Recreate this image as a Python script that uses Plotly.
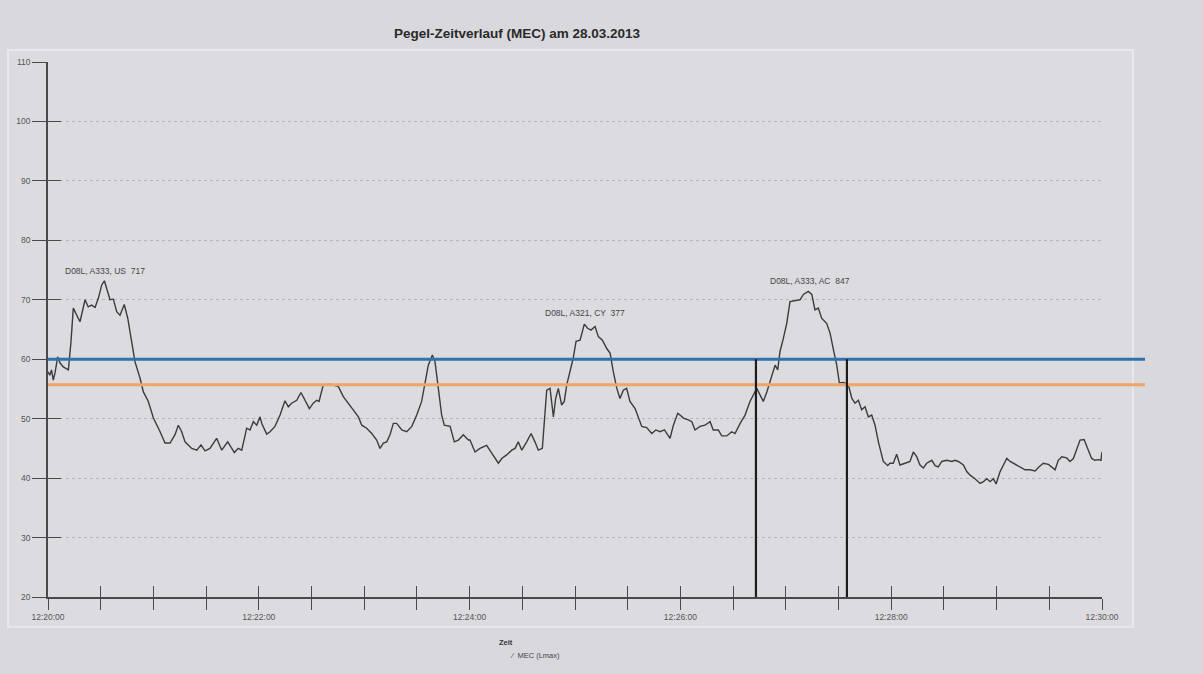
import pandas as pd
import plotly.graph_objects as go

# ---------------- data ----------------
start_time = "2013-03-28 12:20:00"
end_time = "2013-03-28 12:30:00"

seconds = [0, 1, 2, 3, 4, 5.5, 6.8, 8.7, 11.6, 13.1, 14.4, 16.3, 18.2, 21.1, 22.9, 24.9, 26.8, 28.6,
           30.6, 32.1, 33.4, 35.3, 37.2, 39.1, 41.0, 43.4, 45.4, 47.6, 49.5, 52.4, 54.3, 57.1, 60.0,
           63.8, 66.6, 69.5, 72.3, 74.2, 76.1, 78.0, 81.8, 84.7, 87.1, 89.4, 92.2, 96.0, 98.9, 102.3,
           106.1, 108.3, 110.3, 113.1, 115.0, 116.9, 118.8, 120.7,
           121.7, 124.5, 126.4, 129.2, 132.1, 134.9, 136.8, 138.7, 141.6, 144.0, 146.3, 148.8, 151.0,
           153.0, 154.3, 155.8, 156.7, 160.5, 165.3, 168.1, 171.0, 173.8, 176.7, 178.6, 181.4, 184.3,
           187.1, 189.0, 190.9, 192.8, 194.7, 196.6, 198.5, 201.4, 204.2, 207.1, 209.9, 212.7, 214.6,
           216.5, 218.8, 220.3, 222.2, 224.1, 225.6, 228.9, 231.3, 233.6, 236.4, 239.3,
           240.2, 243.1, 245.9, 249.7, 252.6, 256.4, 258.3, 261.1, 264.0, 265.9, 267.7, 269.7, 272.5,
           275.0, 277.2, 279.1, 281.4, 282.5, 283.9, 285.8, 287.7, 289.0, 290.5, 292.4, 293.9, 295.3,
           297.2, 299.0, 300.6, 302.9, 305.3, 307.2, 309.1, 311.4, 313.3, 315.6, 318.1, 320.0, 321.8,
           323.8, 325.6, 327.5, 329.4, 331.3, 334.2, 336.0, 338.0, 340.8, 343.7, 346.0, 348.4, 350.9,
           354.1, 356.0, 358.5, 359.8,
           361.7, 364.5, 366.5, 368.3, 371.2, 374.0, 376.9, 378.7, 381.6, 383.5, 386.4, 389.2, 391.1,
           394.0, 396.8, 399.6, 401.5, 403.5, 405.3, 407.2, 409.2, 412.0, 413.9, 415.4, 416.7, 418.6,
           420.5, 422.4, 425.3, 428.1, 430.0, 432.8, 434.8, 436.6, 438.5, 440.4, 443.3, 445.2, 447.1,
           449.0, 450.5, 452.8, 455.6, 457.6, 459.4, 461.3, 463.2, 465.1, 467.0, 468.9, 470.8, 472.7,
           475.5, 478.0,
           479.3, 481.2, 483.1, 485.0, 487.9, 490.7, 492.6, 494.5, 496.4, 498.3, 500.2, 503.1, 505.0,
           506.8, 508.8, 511.6, 514.5, 516.3, 518.2, 521.1, 523.0, 524.9, 527.7, 530.6, 532.5, 534.4,
           536.3, 538.2, 539.7, 542.0, 543.9, 545.8, 547.7, 550.5, 553.3, 556.2, 559.0, 561.9, 564.2,
           566.6, 569.5, 571.4, 573.3, 575.1, 577.1, 579.9, 581.8, 583.7, 585.6, 587.5, 589.8, 591.9,
           594.1, 596.0, 597.9, 599.4, 600.0]

mec_lmax = [57.9, 57.3, 58.2, 56.5, 57.7, 60.4, 59.4, 58.7, 58.2, 63.0, 68.6, 67.4, 66.3, 70.0, 68.8,
            69.1, 68.7, 70.2, 72.5, 73.2, 71.9, 70.0, 70.1, 68.0, 67.4, 69.2, 66.9, 63.0, 59.6, 56.8,
            54.5, 52.9, 50.1, 47.8, 45.9, 45.9, 47.3, 48.9, 47.8, 46.1, 45.0, 44.7, 45.6, 44.6, 45.0,
            46.7, 44.7, 46.1, 44.3, 45.0, 44.7, 48.4, 48.1, 49.5, 48.9, 50.3,
            49.2, 47.4, 47.8, 48.7, 50.6, 53.0, 52.0, 52.6, 53.1, 54.4, 53.1, 51.7, 52.6, 53.1, 52.9,
            54.8, 55.7, 55.8, 55.4, 53.7, 52.6, 51.5, 50.3, 48.9, 48.4, 47.5, 46.4, 45.0, 45.9, 46.1,
            47.3, 49.2, 49.2, 48.1, 47.8, 48.7, 50.6, 52.9, 56.2, 59.0, 60.7, 59.6, 55.1, 50.6, 48.9,
            48.7, 46.1, 46.4, 47.3, 46.4,
            46.4, 44.4, 45.0, 45.5, 44.2, 42.5, 43.3, 43.9, 44.7, 45.0, 46.1, 44.7, 46.1, 47.5, 46.1,
            44.7, 45.0, 49.5, 54.8, 55.1, 50.3, 53.4, 55.1, 52.3, 52.9, 55.7, 57.9, 60.2, 63.0, 63.2,
            65.9, 65.2, 64.9, 65.5, 63.8, 63.2, 61.8, 61.0, 57.9, 55.1, 53.4, 54.8, 55.1, 52.9, 51.7,
            50.1, 48.7, 48.5, 47.5, 48.1, 47.8, 48.1, 46.7, 48.9, 50.9, 50.6,
            50.1, 49.8, 49.5, 48.1, 48.7, 48.9, 49.5, 48.1, 48.1, 47.1, 47.1, 47.8, 47.5, 49.2, 50.6,
            52.9, 54.0, 55.1, 54.0, 52.9, 54.5, 57.1, 59.0, 58.2, 61.3, 63.5, 66.0, 69.7, 69.8, 70.0,
            70.9, 71.4, 70.9, 68.3, 68.6, 66.9, 66.0, 64.4, 61.6, 59.0, 56.0, 56.1, 55.7, 53.4, 52.6,
            53.1, 51.5, 52.0, 50.3, 50.6, 48.9, 46.1, 42.8, 42.1,
            42.5, 42.5, 44.0, 42.2, 42.5, 42.8, 44.4, 43.6, 42.2, 41.7, 42.5, 43.0, 42.1, 41.9, 42.8,
            43.0, 42.8, 43.0, 42.8, 42.2, 41.1, 40.5, 39.9, 39.1, 39.4, 39.9, 39.4, 39.9, 39.0, 41.1,
            42.2, 43.3, 42.8, 42.3, 41.9, 41.4, 41.4, 41.2, 41.9, 42.5, 42.3, 41.8, 41.4, 43.0, 43.6,
            43.4, 42.8, 43.3, 45.0, 46.4, 46.5, 45.0, 43.3, 43.0, 43.1, 43.0, 44.4]

threshold_blue = 60.0
threshold_orange = 55.7
marker_seconds = [403.0, 454.8]

annot_labels = ["D08L, A333, US  717", "D08L, A321, CY  377", "D08L, A333, AC  847"]
annot_seconds = [8.5, 282.0, 410.0]
annot_values = [74.8, 67.7, 73.2]

title_text = "Pegel-Zeitverlauf (MEC) am 28.03.2013"
x_title = "Zeit"
series_name = "MEC (Lmax)"

# ---------------- build ----------------
t0 = pd.Timestamp(start_time)
times = t0 + pd.to_timedelta(seconds, unit="s")
marker_times = t0 + pd.to_timedelta(marker_seconds, unit="s")
annot_times = t0 + pd.to_timedelta(annot_seconds, unit="s")

FONT = "Liberation Sans, Arial, sans-serif"
AX = "#4a4a4a"

fig = go.Figure()
fig.add_trace(go.Scatter(x=times, y=mec_lmax, mode="lines", name=series_name,
                         line=dict(color="#3c3c3c", width=1.4), showlegend=False))
# helper trace for overlay axes (inner halves of ticks)
fig.add_trace(go.Scatter(x=[t0], y=[20], xaxis="x2", yaxis="y2", mode="markers",
                         marker=dict(opacity=0), showlegend=False, hoverinfo="skip"))

xrange_ = [start_time, end_time]
fig.update_layout(
    width=1203, height=674,
    margin=dict(l=48, r=101, t=62, b=77),
    paper_bgcolor="#d8d8dd",
    plot_bgcolor="rgba(0,0,0,0)",
    font=dict(family=FONT, color="#444"),
    title=dict(text="<b>" + title_text + "</b>", x=517 / 1203, xref="container", xanchor="center",
               y=1 - 33 / 674, yref="container", yanchor="middle",
               font=dict(size=13.5, color="#2a2a2a", family=FONT)),
    xaxis=dict(type="date", range=xrange_, tick0=start_time, dtick=120000, tickformat="%H:%M:%S",
               ticks="outside", ticklen=11, tickwidth=1.3, tickcolor=AX,
               minor=dict(dtick=30000, ticks="outside", ticklen=11, tickwidth=1.3, tickcolor=AX,
                          showgrid=False),
               showline=True, linecolor=AX, linewidth=1.5, showgrid=False, zeroline=False,
               tickfont=dict(size=8.5, color="#555"), automargin=False),
    yaxis=dict(range=[20, 110], dtick=10, tick0=20, ticks="outside", ticklen=14, tickwidth=1.3,
               tickcolor=AX, showline=True, linecolor=AX, linewidth=1.5,
               showgrid=True, gridcolor="#b5b5ba", griddash="dot", gridwidth=1,
               zeroline=False, tickfont=dict(size=8.5, color="#555"), automargin=False),
    xaxis2=dict(type="date", range=xrange_, overlaying="x", tick0=start_time, dtick=120000,
                ticks="inside", ticklen=11, tickwidth=1.3, tickcolor=AX,
                minor=dict(dtick=30000, ticks="inside", ticklen=11, tickwidth=1.3, tickcolor=AX),
                showticklabels=False, showgrid=False, showline=False, zeroline=False,
                automargin=False),
    yaxis2=dict(range=[20, 110], overlaying="y", dtick=10, tick0=20, ticks="inside", ticklen=13,
                tickwidth=1.3, tickcolor=AX, showticklabels=False, showgrid=False,
                showline=False, zeroline=False, automargin=False),
    showlegend=False,
)

# scanned page panel
fig.add_shape(type="rect", xref="paper", yref="paper",
              x0=(8 - 48) / 1054, x1=(1133 - 48) / 1054,
              y0=-(627 - 597) / 535, y1=(597 - 50) / 535,
              line=dict(color="#e8e8ec", width=2), fillcolor="#dcdce0", layer="below")

# threshold lines
fig.add_shape(type="line", xref="paper", yref="y", x0=0, x1=(1145 - 48) / 1054,
              y0=threshold_orange, y1=threshold_orange,
              line=dict(color="#f2a365", width=3))
fig.add_shape(type="line", xref="paper", yref="y", x0=0, x1=(1145 - 48) / 1054,
              y0=threshold_blue, y1=threshold_blue,
              line=dict(color="#2f72ad", width=3))

# event markers
for mt in marker_times:
    fig.add_shape(type="line", xref="x", yref="y", x0=mt, x1=mt, y0=20, y1=threshold_blue,
                  line=dict(color="#1c1c1c", width=2.2))

for txt, at, av in zip(annot_labels, annot_times, annot_values):
    fig.add_annotation(x=at, y=av, text=txt, showarrow=False, xanchor="left", yanchor="middle",
                       font=dict(size=8.5, color="#444", family=FONT))

fig.add_annotation(xref="paper", yref="paper", x=(506 - 48) / 1054, y=-(642 - 597) / 535,
                   text="<b>" + x_title + "</b>", showarrow=False, xanchor="center",
                   yanchor="middle", font=dict(size=7.5, color="#333"))
fig.add_annotation(xref="paper", yref="paper", x=(508 - 48) / 1054, y=-(655 - 597) / 535,
                   text="⁄  " + series_name, showarrow=False, xanchor="left",
                   yanchor="middle", font=dict(size=7.5, color="#444"))

fig.write_html("out.html")
